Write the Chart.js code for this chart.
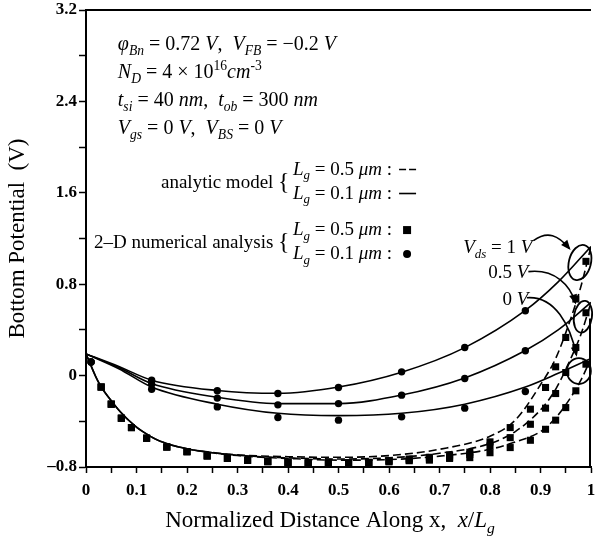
<!DOCTYPE html>
<html><head><meta charset="utf-8">
<script src="https://cdn.jsdelivr.net/npm/chart.js@4.4.0/dist/chart.umd.min.js"></script>
<style>html,body{margin:0;padding:0;background:#fff;overflow:hidden}</style>
</head><body>
<canvas id="c" width="596" height="541"></canvas>
<script>
// ---------- DATA ----------
const vdsLabels = ['0 V', '0.5 V', '1 V'];
const xTickLabels = ['0','0.1','0.2','0.3','0.4','0.5','0.6','0.7','0.8','0.9','1'];
const yTickLabels = ['–0.8','0','0.8','1.6','2.4','3.2'];

// analytic model, Lg = 0.5 um (dashed)
const analytic05X = [0, 0.025, 0.05, 0.075, 0.1, 0.125, 0.15, 0.2, 0.25, 0.3, 0.4, 0.5, 0.6, 0.7, 0.8, 0.85, 0.9, 0.93, 0.96, 0.98, 1];
const analytic05Vds0  = [0.19, -0.06, -0.22, -0.35, -0.45, -0.525, -0.58, -0.64, -0.675, -0.70, -0.725, -0.74, -0.735, -0.705, -0.645, -0.58, -0.49, -0.37, -0.19, -0.04, 0.15];
const analytic05Vds05 = [0.19, -0.06, -0.22, -0.35, -0.45, -0.525, -0.58, -0.64, -0.675, -0.697, -0.72, -0.73, -0.72, -0.68, -0.595, -0.49, -0.30, -0.12, 0.15, 0.36, 0.64];
const analytic05Vds1  = [0.19, -0.06, -0.22, -0.35, -0.45, -0.525, -0.58, -0.64, -0.673, -0.693, -0.71, -0.715, -0.70, -0.645, -0.53, -0.39, -0.08, 0.15, 0.50, 0.78, 1.13];

// analytic model, Lg = 0.1 um (solid)
const analytic01X = [0, 0.065, 0.13, 0.26, 0.38, 0.5, 0.625, 0.75, 0.87, 0.935, 1];
const analytic01Vds0  = [0.19, 0.06, -0.10, -0.25, -0.33, -0.35, -0.33, -0.25, -0.10, 0.02, 0.15];
const analytic01Vds05 = [0.19, 0.07, -0.07, -0.19, -0.245, -0.245, -0.17, -0.02, 0.22, 0.40, 0.64];
const analytic01Vds1  = [0.19, 0.08, -0.04, -0.13, -0.155, -0.10, 0.03, 0.245, 0.57, 0.82, 1.13];

// 2-D numerical, Lg = 0.1 um (circles)
const numeric01X = [0.01, 0.13, 0.26, 0.38, 0.5, 0.625, 0.75, 0.87];
const numeric01Vds0  = [0.12, -0.12, -0.274, -0.367, -0.39, -0.361, -0.285, -0.139];
const numeric01Vds05 = [0.12, -0.075, -0.197, -0.256, -0.245, -0.171, -0.025, 0.218];
const numeric01Vds1  = [0.12, -0.04, -0.133, -0.157, -0.104, 0.033, 0.246, 0.568];

// 2-D numerical, Lg = 0.5 um (squares)
const numeric05X = [0.03,0.05,0.07,0.09,0.12,0.16,0.20,0.24,0.28,0.32,0.36,0.40,0.44,0.48,0.52,0.56,0.60,0.64,0.68,0.72,0.76,0.80,0.84,0.88,0.91,0.93,0.95,0.97,0.99];
const numeric05Vds0  = [-0.10,-0.25,-0.373,-0.455,-0.548,-0.625,-0.666,-0.703,-0.724,-0.741,-0.753,-0.76,-0.765,-0.765,-0.765,-0.76,-0.755,-0.745,-0.74,-0.725,-0.718,-0.675,-0.63,-0.566,-0.47,-0.39,-0.28,-0.133,0.10];
const numeric05Vds05 = [-0.10,-0.25,-0.373,-0.455,-0.548,-0.625,-0.666,-0.703,-0.724,-0.741,-0.753,-0.76,-0.765,-0.765,-0.765,-0.76,-0.75,-0.74,-0.73,-0.715,-0.69,-0.616,-0.543,-0.426,-0.285,-0.157,0.027,0.246,0.55];
const numeric05Vds1  = [-0.10,-0.25,-0.373,-0.455,-0.548,-0.625,-0.666,-0.703,-0.724,-0.741,-0.753,-0.76,-0.765,-0.765,-0.765,-0.76,-0.745,-0.73,-0.715,-0.695,-0.67,-0.58,-0.455,-0.294,-0.104,0.077,0.334,0.67,1.0];

// ---------- helpers ----------
const FAMILY = '"Liberation Serif", "Times New Roman", serif';
const pts = (xs, ys) => xs.map((x, i) => ({x, y: ys[i]}));

function lineDs(xs, ys, dash, offset) {
  return {data: pts(xs, ys), showLine: true, pointRadius: 0, borderColor: '#000', borderWidth: 1.6,
    borderDash: dash, borderDashOffset: offset, cubicInterpolationMode: 'monotone', fill: false};
}
function pointDs(xs, ys, style, r) {
  return {data: pts(xs, ys), showLine: false, pointStyle: style, pointRadius: r, pointBackgroundColor: '#000',
    pointBorderColor: '#000', pointBorderWidth: 0};
}

const datasets = [
  lineDs(analytic05X, analytic05Vds0, [8, 4], 0),
  lineDs(analytic05X, analytic05Vds05, [8, 4], 4),
  lineDs(analytic05X, analytic05Vds1, [8, 4], 8),
  lineDs(analytic01X, analytic01Vds0, [], 0),
  lineDs(analytic01X, analytic01Vds05, [], 0),
  lineDs(analytic01X, analytic01Vds1, [], 0),
  pointDs(numeric01X, numeric01Vds0, 'circle', 3.7),
  pointDs(numeric01X, numeric01Vds05, 'circle', 3.7),
  pointDs(numeric01X, numeric01Vds1, 'circle', 3.7),
  pointDs(numeric05X, numeric05Vds0, 'rect', 5),
  pointDs(numeric05X, numeric05Vds05, 'rect', 5),
  pointDs(numeric05X, numeric05Vds1, 'rect', 5),
];

function drawRich(ctx, x, y, segs, size, align) {
  const parts = segs.map(s => {
    const small = s.sub || s.sup;
    const base = size * (s.scale || 1);
    const fs = small ? base * 0.68 : base;
    const font = (s.i ? 'italic ' : '') + fs + 'px ' + FAMILY;
    ctx.font = font;
    return {t: s.t, font, w: ctx.measureText(s.t).width, dy: (s.sub ? size * 0.25 : (s.sup ? -size * 0.4 : 0)) + (s.dy || 0)};
  });
  const total = parts.reduce((a, p) => a + p.w, 0);
  let cx = align === 'right' ? x - total : (align === 'center' ? x - total / 2 : x);
  ctx.textBaseline = 'alphabetic';
  ctx.textAlign = 'left';
  for (const p of parts) { ctx.font = p.font; ctx.fillText(p.t, cx, y + p.dy); cx += p.w; }
  return total;
}

// annotation text (anchors in data units)
const infoLines = [
  {v: 2.85, segs: [{t:'φ',i:1},{t:'Bn',i:1,sub:1},{t:' = 0.72 '},{t:'V',i:1},{t:',  '},{t:'V',i:1},{t:'FB',i:1,sub:1},{t:' = −0.2 '},{t:'V',i:1}]},
  {v: 2.605, segs: [{t:'N',i:1},{t:'D',i:1,sub:1},{t:' = 4 × 10'},{t:'16',sup:1},{t:'cm',i:1},{t:'-3',sup:1}]},
  {v: 2.36, segs: [{t:'t',i:1},{t:'si',i:1,sub:1},{t:' = 40 '},{t:'nm',i:1},{t:',  '},{t:'t',i:1},{t:'ob',i:1,sub:1},{t:' = 300 '},{t:'nm',i:1}]},
  {v: 2.115, segs: [{t:'V',i:1},{t:'gs',i:1,sub:1},{t:' = 0 '},{t:'V',i:1},{t:',  '},{t:'V',i:1},{t:'BS',i:1,sub:1},{t:' = 0 '},{t:'V',i:1}]},
];
const lgLine = (val) => [{t:'L',i:1},{t:'g',i:1,sub:1},{t:' = ' + val + ' '},{t:'μm',i:1},{t:' :'}];

const annot = {
  id: 'annot',
  afterDraw(chart) {
    const {ctx, chartArea: ca, scales: {x: sx, y: sy}} = chart;
    const X = v => sx.getPixelForValue(v), Y = v => sy.getPixelForValue(v);
    ctx.save();
    ctx.fillStyle = '#000'; ctx.strokeStyle = '#000';
    // top border and partial right border
    ctx.lineWidth = 2;
    ctx.beginPath(); ctx.moveTo(ca.left, ca.top); ctx.lineTo(ca.right, ca.top); ctx.stroke();
    ctx.beginPath(); ctx.moveTo(ca.right - 1, Y(0.5)); ctx.lineTo(ca.right - 1, ca.bottom); ctx.stroke();

    // info block
    const x0 = X(0.063);
    infoLines.forEach(l => drawRich(ctx, x0, Y(l.v), l.segs, 20, 'left'));

    // legend
    const bx = X(0.403);
    drawRich(ctx, bx, Y(1.64), [{t:'analytic model '},{t:'{', scale: 1.25, dy: 1}], 19, 'right');
    drawRich(ctx, bx, Y(1.115), [{t:'2–D numerical analysis '},{t:'{', scale: 1.25, dy: 1}], 19, 'right');
    const lx = X(0.41);
    const w1 = drawRich(ctx, lx, Y(1.76), lgLine('0.5'), 19, 'left');
    drawRich(ctx, lx, Y(1.55), lgLine('0.1'), 19, 'left');
    drawRich(ctx, lx, Y(1.23), lgLine('0.5'), 19, 'left');
    drawRich(ctx, lx, Y(1.02), lgLine('0.1'), 19, 'left');
    const sx0 = lx + w1 + 7;
    ctx.lineWidth = 1.6;
    ctx.setLineDash([7, 3]);
    ctx.beginPath(); ctx.moveTo(sx0, Y(1.76) - 5); ctx.lineTo(sx0 + 17, Y(1.76) - 5); ctx.stroke();
    ctx.setLineDash([]);
    ctx.beginPath(); ctx.moveTo(sx0, Y(1.55) - 5); ctx.lineTo(sx0 + 17, Y(1.55) - 5); ctx.stroke();
    ctx.fillRect(sx0 + 4, Y(1.23) - 9, 8, 8);
    ctx.beginPath(); ctx.arc(sx0 + 8, Y(1.02) - 5, 4, 0, Math.PI * 2); ctx.fill();

    // Vds labels
    drawRich(ctx, X(0.884), Y(1.07), [{t:'V',i:1},{t:'ds',i:1,sub:1},{t:' = 1 '},{t:'V',i:1}], 19, 'right');
    drawRich(ctx, X(0.876), Y(0.85), [{t:'0.5 '},{t:'V',i:1}], 19, 'right');
    drawRich(ctx, X(0.876), Y(0.62), [{t:'0 '},{t:'V',i:1}], 19, 'right');

    // ellipses
    ctx.lineWidth = 1.8;
    const ell = [[0.978, 0.99, 11, 18, 0.25], [0.984, 0.515, 9, 16, 0.15], [0.976, 0.04, 12, 13, 0]];
    ell.forEach(e => { ctx.beginPath(); ctx.ellipse(X(e[0]), Y(e[1]), e[2], e[3], e[4], 0, Math.PI * 2); ctx.stroke(); });

    // arrows (bezier in data units)
    const arrows = [
      [[0.886, 1.182], [0.914, 1.27], [0.935, 1.23], [0.957, 1.112]],
      [[0.876, 0.91], [0.929, 0.937], [0.959, 0.788], [0.969, 0.639]],
      [[0.873, 0.682], [0.929, 0.70], [0.959, 0.437], [0.971, 0.182]],
    ];
    ctx.lineWidth = 1.6;
    arrows.forEach(a => {
      const p = a.map(q => [X(q[0]), Y(q[1])]);
      ctx.beginPath(); ctx.moveTo(p[0][0], p[0][1]);
      ctx.bezierCurveTo(p[1][0], p[1][1], p[2][0], p[2][1], p[3][0], p[3][1]); ctx.stroke();
      const ang = Math.atan2(p[3][1] - p[2][1], p[3][0] - p[2][0]);
      const L = 10, W = 4;
      const ex = p[3][0] + Math.cos(ang) * 2, ey = p[3][1] + Math.sin(ang) * 2;
      ctx.beginPath();
      ctx.moveTo(ex, ey);
      ctx.lineTo(ex - L * Math.cos(ang) + W * Math.sin(ang), ey - L * Math.sin(ang) - W * Math.cos(ang));
      ctx.lineTo(ex - L * Math.cos(ang) - W * Math.sin(ang), ey - L * Math.sin(ang) + W * Math.cos(ang));
      ctx.closePath(); ctx.fill();
    });

    // x axis title
    drawRich(ctx, 330, 527, [{t:'Normalized Distance Along x,  '},{t:'x',i:1},{t:'/'},{t:'L',i:1},{t:'g',i:1,sub:1}], 23, 'center');
    ctx.restore();
  }
};

const tickFont = {family: FAMILY, size: 17, weight: 'bold'};
new Chart(document.getElementById('c'), {
  type: 'scatter',
  data: {datasets},
  options: {
    responsive: false, animation: false, devicePixelRatio: 1,
    layout: {padding: {top: 10, left: 0, right: 0, bottom: 0}},
    plugins: {legend: {display: false}, tooltip: {enabled: false}},
    scales: {
      x: {
        type: 'linear', min: 0, max: 1,
        ticks: {stepSize: 0.05, autoSkip: false, maxRotation: 0, minRotation: 0, color: '#000', font: tickFont, padding: 7,
          callback: v => { const k = Math.round(v * 100); return k % 10 === 0 ? xTickLabels[k / 10] : ''; }},
        grid: {drawOnChartArea: false, drawTicks: true, tickLength: 6, tickColor: '#000', tickWidth: 1.5},
        border: {display: true, color: '#000', width: 2},
        afterFit: s => { s.height = 74; s.paddingLeft = 0; s.paddingRight = 0; }
      },
      y: {
        type: 'linear', min: -0.8, max: 3.2,
        ticks: {stepSize: 0.4, autoSkip: false, color: '#000', font: tickFont, padding: 2,
          callback: v => { const k = Math.round(v * 10); return k % 8 === 0 ? yTickLabels[k / 8 + 1] : ''; }},
        grid: {drawOnChartArea: false, drawTicks: true, tickLength: 7, tickColor: '#000', tickWidth: 1.5},
        border: {display: true, color: '#000', width: 2},
        title: {display: true, text: 'Bottom Potential  (V)', color: '#000', font: {family: FAMILY, size: 23}, padding: {top: 4, bottom: 0}},
        afterFit: s => { s.width = 86; s.paddingTop = 0; s.paddingBottom = 0; }
      }
    }
  },
  plugins: [annot]
});
</script>
</body></html>
